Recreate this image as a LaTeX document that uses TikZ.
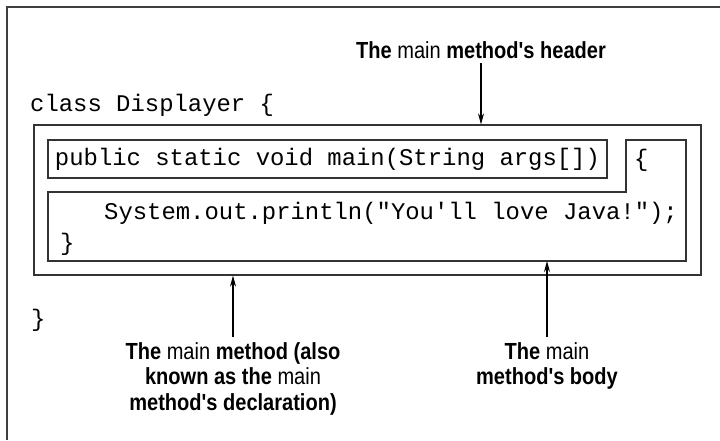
\documentclass[tikz,border=0pt]{standalone}
\usepackage{fontspec}
\setmonofont{Liberation Mono}
\newfontfamily\labelfont[FakeStretch=0.86]{Liberation Sans}
\usetikzlibrary{arrows.meta}

\tikzset{
  codetext/.style={font=\ttfamily\fontsize{23.9}{28}\selectfont, inner sep=0pt, anchor=base west},
  callout/.style={font=\labelfont\bfseries\fontsize{23.3}{25.5}\selectfont, align=center, inner sep=5pt},
  boxline/.style={draw=black!80, line width=1.2pt},
  pointer/.style={-{Stealth[length=11pt,width=6pt]}, line width=1.1pt},
}
\newcommand{\plainmain}{{\mdseries main}}

\begin{document}
\begin{tikzpicture}[x=1pt,y=-1pt]
  \useasboundingbox (0,0) rectangle (720,440);
  % page frame (open to the right and bottom)
  \draw[black!75, line width=1.6pt] (7,440) -- (7,7) -- (720,7);

  % class lines
  \node[codetext] (classopen) at (30,111) {class Displayer \{};
  \node[codetext] (classclose) at (31,326) {\}};

  % the main method box
  \node[boxline, minimum width=667pt, minimum height=150pt, inner sep=0pt] (method) at (367.5,200) {};

  % header
  \node[boxline, codetext, anchor=center, minimum width=559pt, minimum height=38pt] (header) at (327.5,159) {public static void main(String args[])};

  % body (L-shaped)
  \draw[boxline] (48,192) -- (626,192) -- (626,140) -- (686,140) -- (686,261) -- (48,261) -- cycle;
  \coordinate (bodybottom) at (547,261);
  \node[codetext] (bodyopen) at (634,166) {\{};
  \node[codetext] (println) at (104,219) {System.out.println("You'll love Java!");};
  \node[codetext] (bodyclose) at (60,250) {\}};

  % callouts
  \node[callout, anchor=base] (headerlabel) at (481,58) {The \plainmain\ method's header};
  \node[callout, anchor=north] (methodlabel) at (233,337) {The \plainmain\ method (also\\known as the \plainmain\\method's declaration)};
  \node[callout, anchor=north] (bodylabel) at (547,337) {The \plainmain\\method's body};

  \draw[pointer] (headerlabel.south) -- (headerlabel.south |- method.north);
  \draw[pointer] (methodlabel.north) -- (methodlabel.north |- method.south);
  \draw[pointer] (bodylabel.north) -- (bodybottom);
\end{tikzpicture}
\end{document}
